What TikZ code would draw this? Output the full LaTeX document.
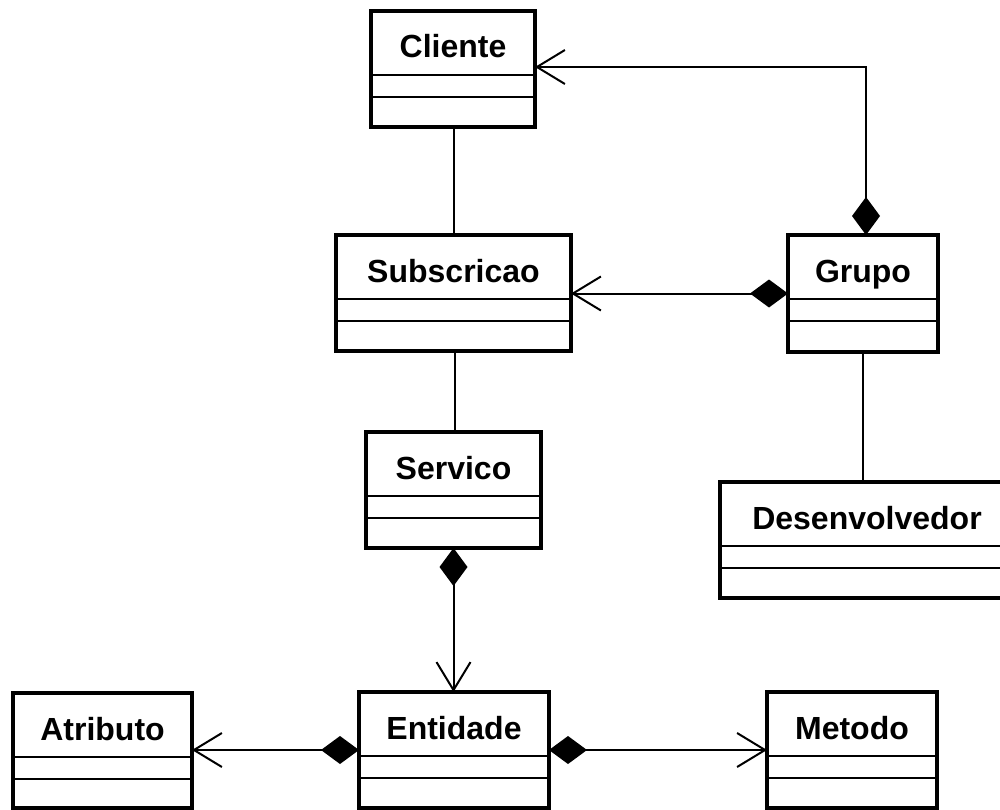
\documentclass[tikz,border=0pt]{standalone}
\usepackage{fontspec}
\setmainfont{Liberation Sans}
\usetikzlibrary{arrows.meta,calc}

\tikzset{
  clsbox/.style={draw=black, line width=4pt, fill=white, rectangle,
    inner sep=0pt, outer sep=0pt},
  divider/.style={line width=2pt},
  clstitle/.style={inner sep=0pt, font=\fontsize{32}{38}\selectfont\bfseries},
  assoc/.style={line width=2pt},
  openhead/.tip={Straight Barb[length=28pt, width=34pt, line width=2pt]},
  fillhead/.tip={Diamond[length=38pt, width=28pt, fill=black, line width=0pt]},
  compo/.style={assoc, {fillhead}-{openhead}},
}

% a UML class box: name, x1, y1, x2, y2, title
\newcommand\umlclass[6]{%
  \node[clsbox, minimum width={#4-#2}, minimum height={#5-#3}]
    (#1) at ({(#2+#4)/2},{(#3+#5)/2}) {};
  \draw[divider] ($(#1.north west)+(0,64)$) -- ($(#1.north east)+(0,64)$);
  \draw[divider] ($(#1.north west)+(0,86)$) -- ($(#1.north east)+(0,86)$);
  \node[clstitle, anchor=base] (#1-title) at ({(#2+#4)/2},{#3+47}) {#6};
}

\begin{document}
\begin{tikzpicture}[x=1pt, y=-1pt]
  \useasboundingbox (0,0) rectangle (1000,810);
  \clip (0,0) rectangle (1000,810);
  \fill[white] (0,0) rectangle (1000,810);

  % classes
  \umlclass{cli}{371}{11}{535}{127}{Cliente}
  \umlclass{sub}{336}{235}{571}{351}{Subscricao}
  \umlclass{grp}{788}{235}{938}{352}{Grupo}
  \umlclass{srv}{366}{432}{541}{548}{Servico}
  \umlclass{des}{720}{482}{1014}{598}{Desenvolvedor}
  \umlclass{atr}{13}{693}{192}{808}{Atributo}
  \umlclass{ent}{359}{692}{549}{808}{Entidade}
  \umlclass{met}{767}{692}{937}{808}{Metodo}

  % associations
  \draw[assoc] ([xshift=1]cli.south) -- ([xshift=1]cli.south |- sub.north);
  \draw[assoc] ([xshift=1]sub.south) -- ([xshift=1]sub.south |- srv.north);
  \draw[assoc] (grp.south) -- (grp.south |- des.north);

  % compositions
  \draw[compo] ([xshift=3]grp.north) |- ([yshift=2]cli.east);
  \draw[compo] (grp.west) -- (grp.west -| sub.east);
  \draw[compo] (srv.south) -- (srv.south |- ent.north);
  \draw[compo] (ent.west) -- (ent.west -| atr.east);
  \draw[compo] (ent.east) -- (ent.east -| met.west);
\end{tikzpicture}
\end{document}
